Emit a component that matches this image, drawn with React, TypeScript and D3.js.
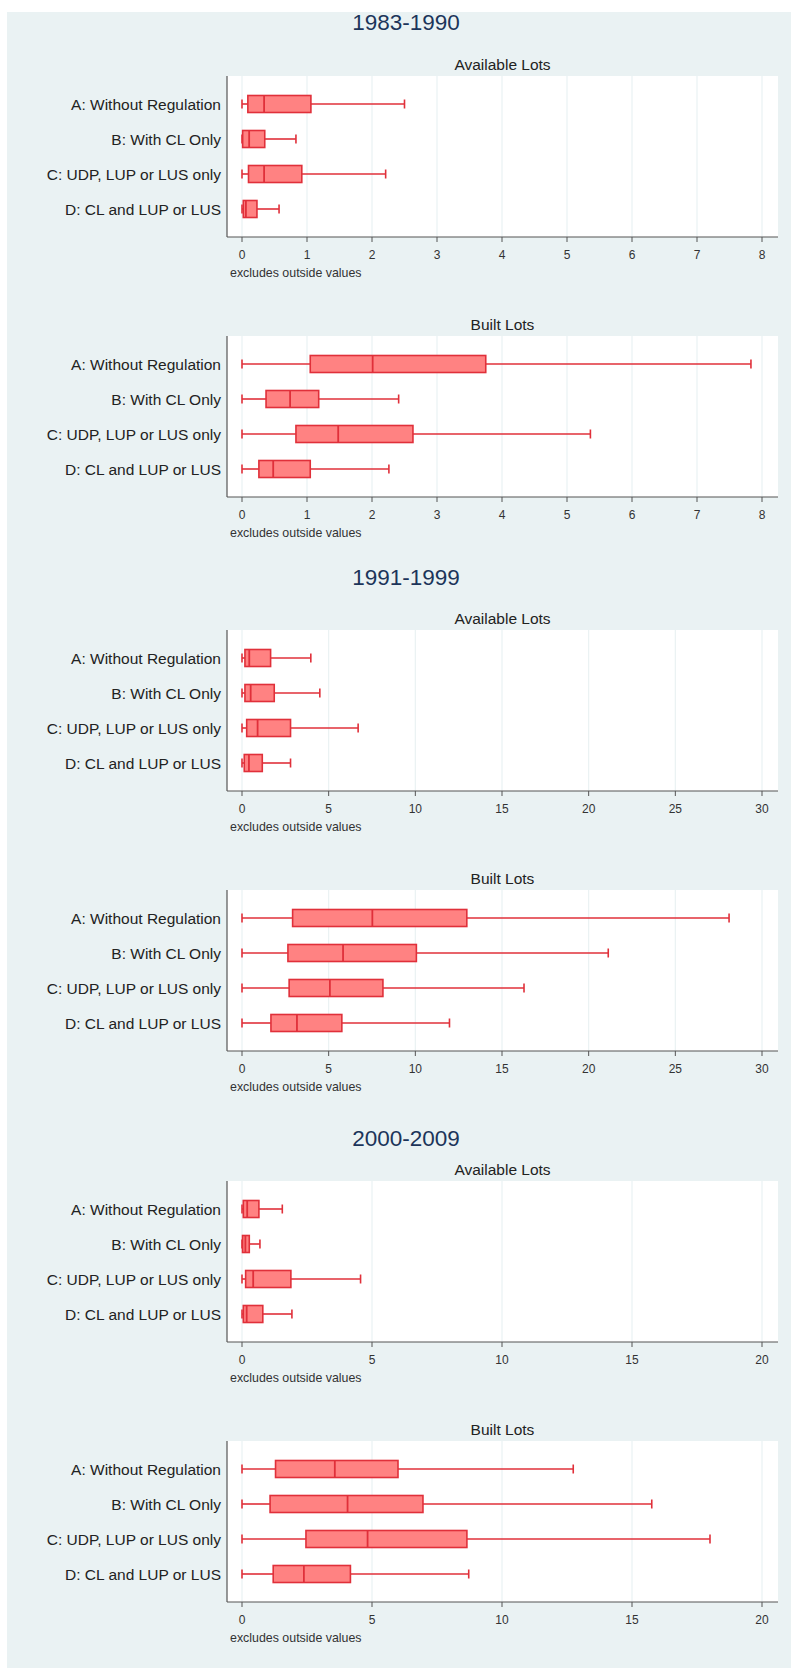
import React from 'react';
import * as d3 from 'd3';

const CATEGORIES = [
  'A: Without Regulation',
  'B: With CL Only',
  'C: UDP, LUP or LUS only',
  'D: CL and LUP or LUS',
];

const PERIODS = ['1983-1990', '1991-1999', '2000-2009'];
const X_MAX = [8, 30, 20];
const X_TICKS = [
  [0, 1, 2, 3, 4, 5, 6, 7, 8],
  [0, 5, 10, 15, 20, 25, 30],
  [0, 5, 10, 15, 20],
];

// [min, q1, median, q3, max] per category
const AVAIL_1983 = [
  [0, 0.09, 0.34, 1.06, 2.5],
  [0, 0.01, 0.11, 0.35, 0.83],
  [0, 0.1, 0.34, 0.92, 2.21],
  [0, 0.02, 0.06, 0.23, 0.57],
];
const BUILT_1983 = [
  [0, 1.05, 2.01, 3.75, 7.83],
  [0, 0.37, 0.74, 1.18, 2.41],
  [0, 0.83, 1.48, 2.63, 5.36],
  [0, 0.26, 0.48, 1.05, 2.26],
];
const AVAIL_1991 = [
  [0, 0.17, 0.42, 1.65, 3.97],
  [0, 0.17, 0.5, 1.86, 4.49],
  [0, 0.27, 0.9, 2.8, 6.7],
  [0, 0.13, 0.4, 1.17, 2.8],
];
const BUILT_1991 = [
  [0, 2.92, 7.52, 12.97, 28.1],
  [0, 2.65, 5.83, 10.06, 21.13],
  [0, 2.72, 5.07, 8.13, 16.27],
  [0, 1.67, 3.17, 5.76, 11.97],
];
const AVAIL_2000 = [
  [0, 0.05, 0.2, 0.65, 1.55],
  [0, 0.02, 0.13, 0.28, 0.69],
  [0, 0.14, 0.43, 1.88, 4.56],
  [0, 0.05, 0.18, 0.8, 1.92],
];
const BUILT_2000 = [
  [0, 1.29, 3.57, 6.0, 12.74],
  [0, 1.08, 4.06, 6.96, 15.76],
  [0, 2.46, 4.83, 8.65, 18.0],
  [0, 1.2, 2.38, 4.17, 8.72],
];

const PANEL_DATA = [
  [AVAIL_1983, BUILT_1983],
  [AVAIL_1991, BUILT_1991],
  [AVAIL_2000, BUILT_2000],
];
const PANEL_TITLES = ['Available Lots', 'Built Lots'];

const W = 791;
const H = 1668;
const FONT = '"Liberation Sans", Arial, Helvetica, sans-serif';
const BG = '#eaf2f3';
const BOX_FILL = '#ff8282';
const BOX_STROKE = '#e0303a';

const PLOT_LEFT = 227;
const PLOT_RIGHT = 778;
const PLOT_H = 161;
const PERIOD_TITLE_Y = [30, 585, 1146];
const AVAIL_TOP = [76, 630, 1181];
const BUILT_OFFSET = 260;

interface PanelProps {
  top: number;
  title: string;
  data: number[][];
  xMax: number;
  ticks: number[];
}

const Panel: React.FC<PanelProps> = ({ top, title, data, xMax, ticks }) => {
  const x = d3.scaleLinear().domain([0, xMax]).range([242, 762]);
  const y = d3.scalePoint<string>().domain(CATEGORIES).range([top, top + PLOT_H]).padding(0.8);
  const bottom = top + PLOT_H;
  const boxH = 17;
  const capH = 9;
  const sw = 1.6;

  return (
    <g>
      <text x={(PLOT_LEFT + PLOT_RIGHT) / 2} y={top - 6} textAnchor="middle" fontSize={15.5} fill="#222">
        {title}
      </text>
      <rect x={PLOT_LEFT} y={top} width={PLOT_RIGHT - PLOT_LEFT} height={PLOT_H} fill="#fff" />
      {ticks.map((t) => (
        <line key={'g' + t} x1={x(t)} x2={x(t)} y1={top} y2={bottom} stroke={BG} strokeWidth={1.2} />
      ))}
      {CATEGORIES.map((c, i) => {
        const [mn, q1, md, q3, mx] = data[i];
        const cy = y(c) as number;
        return (
          <g key={c}>
            <line x1={x(mn)} x2={x(q1)} y1={cy} y2={cy} stroke={BOX_STROKE} strokeWidth={sw} />
            <line x1={x(q3)} x2={x(mx)} y1={cy} y2={cy} stroke={BOX_STROKE} strokeWidth={sw} />
            <line x1={x(mn)} x2={x(mn)} y1={cy - capH / 2} y2={cy + capH / 2} stroke={BOX_STROKE} strokeWidth={sw} />
            <line x1={x(mx)} x2={x(mx)} y1={cy - capH / 2} y2={cy + capH / 2} stroke={BOX_STROKE} strokeWidth={sw} />
            <rect
              x={x(q1)}
              y={cy - boxH / 2}
              width={Math.max(0, x(q3) - x(q1))}
              height={boxH}
              fill={BOX_FILL}
              stroke={BOX_STROKE}
              strokeWidth={sw}
            />
            <line x1={x(md)} x2={x(md)} y1={cy - boxH / 2} y2={cy + boxH / 2} stroke={BOX_STROKE} strokeWidth={1.8} />
            <text x={221} y={cy + 5.5} textAnchor="end" fontSize={15.5} fill="#222">
              {c}
            </text>
          </g>
        );
      })}
      <line x1={PLOT_LEFT} x2={PLOT_LEFT} y1={top} y2={bottom} stroke="#555" strokeWidth={1.2} />
      <line x1={PLOT_LEFT} x2={PLOT_RIGHT} y1={bottom} y2={bottom} stroke="#555" strokeWidth={1.2} />
      {ticks.map((t) => (
        <g key={'t' + t}>
          <line x1={x(t)} x2={x(t)} y1={bottom} y2={bottom + 5} stroke="#555" strokeWidth={1} />
          <text x={x(t)} y={bottom + 22} textAnchor="middle" fontSize={12} fill="#333">
            {t}
          </text>
        </g>
      ))}
      <text x={230} y={bottom + 40} fontSize={12.4} fill="#333">
        excludes outside values
      </text>
    </g>
  );
};

export default function App() {
  return (
    <svg
      width={W}
      height={H}
      style={{ position: 'absolute', left: 0, top: 0, display: 'block' }}
      fontFamily={FONT}
    >
      <rect x={0} y={0} width={W} height={H} fill="#fff" />
      <rect x={7} y={12} width={W - 7} height={H - 12} fill={BG} />
      {PERIODS.map((p, i) => (
        <g key={p}>
          <text x={406} y={PERIOD_TITLE_Y[i]} textAnchor="middle" fontSize={22.5} fill="#1c355a">
            {p}
          </text>
          {PANEL_DATA[i].map((d, j) => (
            <Panel
              key={j}
              top={AVAIL_TOP[i] + j * BUILT_OFFSET}
              title={PANEL_TITLES[j]}
              data={d}
              xMax={X_MAX[i]}
              ticks={X_TICKS[i]}
            />
          ))}
        </g>
      ))}
    </svg>
  );
}
